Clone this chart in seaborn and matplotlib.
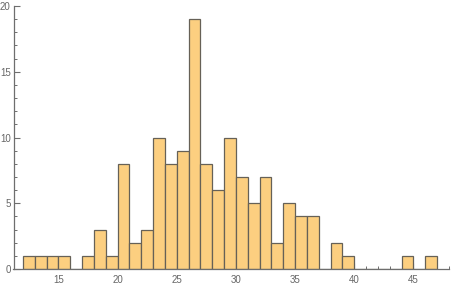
import numpy as np
import pandas as pd
import matplotlib
matplotlib.use("Agg")
import matplotlib.pyplot as plt
from matplotlib.ticker import MultipleLocator
import seaborn as sns

# Histogram bins (left edges) and counts
bin_left = [12, 13, 14, 15, 16, 17, 18, 19, 20, 21, 22, 23, 24, 25, 26, 27, 28, 29,
            30, 31, 32, 33, 34, 35, 36, 37, 38, 39, 40, 41, 42, 43, 44, 45, 46]
counts = [1, 1, 1, 1, 0, 1, 3, 1, 8, 2, 3, 10, 8, 9, 19, 8, 6, 10,
          7, 5, 7, 2, 5, 4, 4, 0, 2, 1, 0, 0, 0, 0, 1, 0, 1]
x_ticks = [15, 20, 25, 30, 35, 40, 45]
y_ticks = [0, 5, 10, 15, 20]

df = pd.DataFrame({"x": np.array(bin_left) + 0.5, "w": counts})
edges = list(bin_left) + [bin_left[-1] + 1]

sns.set_style("white")
plt.rcParams["font.family"] = ["Liberation Sans", "DejaVu Sans"]

fig = plt.figure(figsize=(4.51, 2.87), dpi=100)
ax = fig.add_axes([13.5 / 451, 18 / 287, 435.5 / 451, 263 / 287])

sns.histplot(data=df, x="x", weights="w", bins=edges, ax=ax,
             color=(0.99, 0.81, 0.5), alpha=1.0,
             edgecolor=(0.40, 0.38, 0.34), linewidth=0.9)

ax.set_xlim(11.2, 48.0)
ax.set_ylim(0, 20)
ax.set_xticks(x_ticks)
ax.set_yticks(y_ticks)
ax.xaxis.set_minor_locator(MultipleLocator(1))
ax.yaxis.set_minor_locator(MultipleLocator(1))
ax.set_xlabel("")
ax.set_ylabel("")

for s in ["top", "right"]:
    ax.spines[s].set_visible(False)
for s in ["left", "bottom"]:
    ax.spines[s].set_color("#6e6e6e")
    ax.spines[s].set_linewidth(0.9)

ax.tick_params(axis="both", which="major", direction="in", length=4.5, width=0.8,
               color="#6e6e6e", labelcolor="#666666", labelsize=7)
ax.tick_params(axis="both", which="minor", direction="in", length=2.5, width=0.7,
               color="#6e6e6e")
ax.tick_params(axis="x", which="both", bottom=True, pad=4.5)
ax.tick_params(axis="y", which="both", left=True, pad=2)

fig.savefig("out.png", dpi=100)
